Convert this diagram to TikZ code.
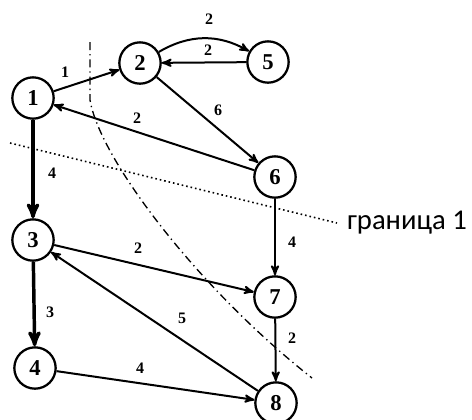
\documentclass[tikz,border=0pt]{standalone}
\usepackage{fontspec}
\setmainfont{Liberation Serif}
\newfontfamily\capfont{Carlito}
\usetikzlibrary{arrows}
\usetikzlibrary{positioning}

\tikzset{
	vertex/.style={draw,circle,line width=1.7pt,minimum size=31pt,inner sep=0pt,font=\fontsize{17}{17}\selectfont\bfseries},
	arc/.style={->,>=stealth',line width=1.5pt},
	heavy/.style={arc,line width=2.6pt},
	wt/.style={font=\fontsize{12}{12}\selectfont\bfseries,inner sep=1pt},
	cut/.style={line width=1pt,dash pattern=on 6pt off 3pt on 1pt off 3pt},
	border/.style={line width=1.2pt,dash pattern=on 1.2pt off 2.2pt},
}

\begin{document}
\begin{tikzpicture}[x=0.75pt,y=-0.75pt]
	\useasboundingbox (0,0) rectangle (472,419);
	% vertices
	\node[vertex](N1) at (33,98){1};
	\node[vertex](N2) at (140,63){2};
	\node[vertex](N5) at (268,62){5};
	\node[vertex](N6) at (275,177){6};
	\node[vertex](N3) at (33,240){3};
	\node[vertex](N7) at (275,297){7};
	\node[vertex](N4) at (35,368){4};
	\node[vertex](N8) at (276,403){8};
	% arcs
	\draw[arc] (N1) -- (N2);
	\draw[arc] (N2) to[bend left=30] (N5);
	\draw[arc] (N5) -- (N2);
	\draw[arc] (N2) -- (N6);
	\draw[arc] (N6) -- (N1);
	\draw[heavy] (N1) -- (N3);
	\draw[arc] (N6) -- (N7);
	\draw[arc] (N3) -- (N7);
	\draw[heavy] (N3) -- (N4);
	\draw[arc] (N8) -- (N3);
	\draw[arc] (N7) -- (N8);
	\draw[arc] (N4) -- (N8);
	% weights
	\node[wt](w12) at (65,72){1};
	\node[wt](w25) at (209,19){2};
	\node[wt](w52) at (208,50){2};
	\node[wt](w26) at (218,110){6};
	\node[wt](w61) at (137,118){2};
	\node[wt](w13) at (52,173){4};
	\node[wt](w67) at (292,242){4};
	\node[wt](w37) at (138,248){2};
	\node[wt](w34) at (50,312){3};
	\node[wt](w83) at (182,318){5};
	\node[wt](w78) at (292,338){2};
	\node[wt](w48) at (140,368){4};
	% cut line
	\coordinate (c1) at (90,42);
	\coordinate (c2) at (312,378);
	\draw[cut] (c1) -- (90,100) .. controls (100,160) and (200,290) .. (c2);
	% border 1
	\coordinate (b1) at (10,143);
	\coordinate (b2) at (337,223);
	\draw[border] (b1) -- (b2);
	\node[right=4pt of b2,font=\capfont\fontsize{21.5}{21.5}\selectfont](B1){граница 1};
\end{tikzpicture}
\end{document}
